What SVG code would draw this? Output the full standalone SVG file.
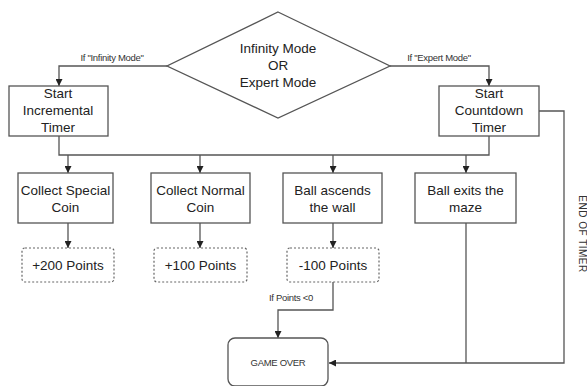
<svg xmlns="http://www.w3.org/2000/svg" width="587" height="386" viewBox="0 0 587 386">
<style>
.box{fill:#fff;stroke:#555;stroke-width:1.3}
.dash{fill:#fff;stroke:#666;stroke-width:1.2;stroke-dasharray:2 2}
.t{font-family:"Liberation Sans",Arial,sans-serif;font-size:13.5px;fill:#222;text-anchor:middle}
.s{font-family:"Liberation Sans",Arial,sans-serif;font-size:9.5px;fill:#333;text-anchor:middle;letter-spacing:-0.3px}
.c{fill:none;stroke:#555;stroke-width:1.3}
</style>
<defs>
<marker id="ah" viewBox="0 0 10 10" refX="10" refY="5" markerWidth="7" markerHeight="7" orient="auto" markerUnits="userSpaceOnUse">
<path d="M0,0 L10,5 L0,10 z" fill="#222"/>
</marker>
</defs>
<rect width="587" height="386" fill="#fff"/>
<g id="connectors">
<path class="c" d="M167,66 H59 V86" marker-end="url(#ah)"/>
<path class="c" d="M390,66 H489 V86" marker-end="url(#ah)"/>
<path class="c" d="M59,136 V155 H489 V136"/>
<path class="c" d="M68,155 V173" marker-end="url(#ah)"/>
<path class="c" d="M200,155 V173" marker-end="url(#ah)"/>
<path class="c" d="M333,155 V173" marker-end="url(#ah)"/>
<path class="c" d="M466,155 V173" marker-end="url(#ah)"/>
<path class="c" d="M68,223 V248" marker-end="url(#ah)"/>
<path class="c" d="M200,223 V248" marker-end="url(#ah)"/>
<path class="c" d="M333,223 V248" marker-end="url(#ah)"/>
<path class="c" d="M333,282 V310 H278 V338" marker-end="url(#ah)"/>
<path class="c" d="M539,111 H564 V363 H329" marker-end="url(#ah)"/>
<path class="c" d="M466,223 V363"/>
<text class="s" x="112" y="61">If  "Infinity Mode"</text>
<text class="s" x="439" y="61">If "Expert Mode"</text>
<text class="s" x="291" y="301">If Points &lt;0</text>
<text class="s" transform="translate(579,234) rotate(90)" style="font-size:10px;letter-spacing:0.5px">END OF TIMER</text>
</g>
<g id="mode">
<polygon class="box" points="278,12 390,66 278,118 167,66"/>
<text class="t" x="278" y="53">Infinity Mode</text>
<text class="t" x="278" y="70">OR</text>
<text class="t" x="278" y="87">Expert Mode</text>
</g>
<g id="incremental">
<rect class="box" x="9" y="86" width="99" height="50"/>
<text class="t" x="58" y="98">Start</text>
<text class="t" x="58" y="115">Incremental</text>
<text class="t" x="58" y="132">Timer</text>
</g>
<g id="countdown">
<rect class="box" x="439" y="86" width="100" height="50"/>
<text class="t" x="489" y="98">Start</text>
<text class="t" x="489" y="115">Countdown</text>
<text class="t" x="489" y="132">Timer</text>
</g>
<g id="special">
<rect class="box" x="18" y="173" width="95" height="50"/>
<text class="t" x="65.5" y="195">Collect Special</text>
<text class="t" x="65.5" y="212">Coin</text>
</g>
<g id="normal">
<rect class="box" x="151" y="173" width="99" height="50"/>
<text class="t" x="200.5" y="195">Collect Normal</text>
<text class="t" x="200.5" y="212">Coin</text>
</g>
<g id="ascends">
<rect class="box" x="283" y="173" width="99" height="50"/>
<text class="t" x="332.5" y="195">Ball ascends</text>
<text class="t" x="332.5" y="212">the wall</text>
</g>
<g id="exits">
<rect class="box" x="415" y="173" width="101" height="50"/>
<text class="t" x="465.5" y="195">Ball exits the</text>
<text class="t" x="465.5" y="212">maze</text>
</g>
<g id="p200">
<rect class="dash" x="22" y="248" width="92" height="34" rx="3"/>
<text class="t" x="68" y="270">+200 Points</text>
</g>
<g id="p100">
<rect class="dash" x="154" y="248" width="93" height="34" rx="3"/>
<text class="t" x="200.5" y="270">+100 Points</text>
</g>
<g id="m100">
<rect class="dash" x="287" y="248" width="92" height="34" rx="3"/>
<text class="t" x="333" y="270">-100 Points</text>
</g>
<g id="gameover">
<rect class="box" x="228" y="338" width="100" height="48" rx="7"/>
<text class="s" x="278" y="366" style="font-size:9.5px">GAME OVER</text>
</g>
</svg>
